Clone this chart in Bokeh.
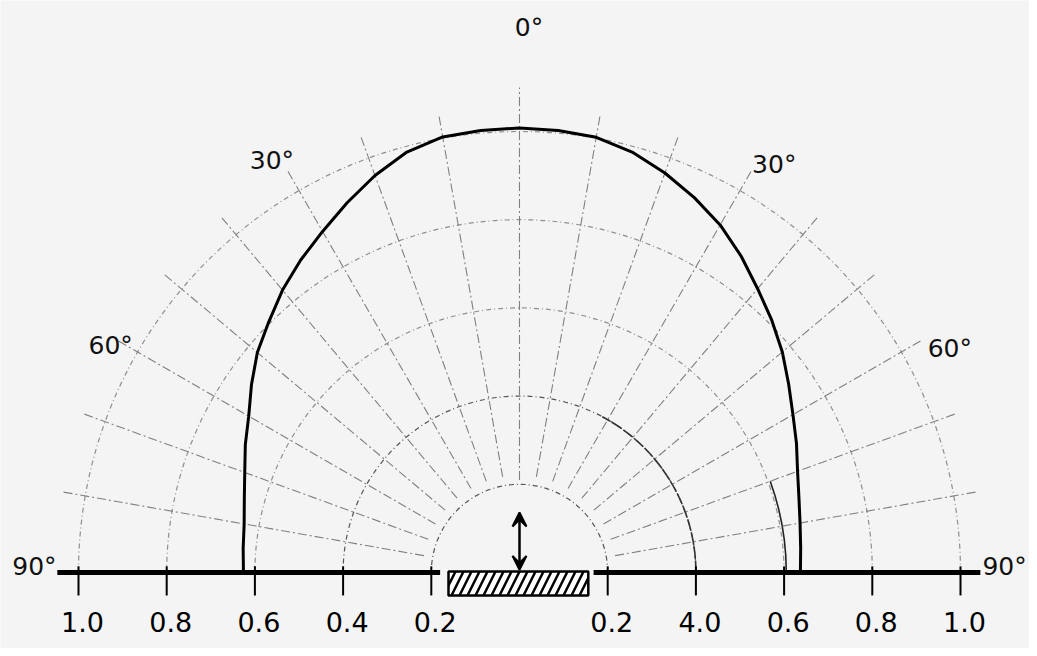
import numpy as np
from bokeh.plotting import figure
from bokeh.models import Range1d, Arrow, VeeHead
from bokeh.embed import file_html
from bokeh.resources import INLINE
from bokeh.core.properties import value

# ---- data ----
curve_angles = [0, 5, 10, 15, 20, 25, 30, 35, 40, 45, 50, 55, 60, 65, 70, 75, 80, 85, 90]
curve_r_left = [1.008, 1.006, 1.003, 0.987, 0.958, 0.925, 0.893, 0.865, 0.836, 0.804, 0.776,
                0.742, 0.709, 0.686, 0.663, 0.646, 0.634, 0.629, 0.626]
curve_r_right = [1.008, 1.006, 1.002, 0.987, 0.964, 0.938, 0.910, 0.876, 0.840, 0.809, 0.778,
                 0.745, 0.716, 0.693, 0.671, 0.656, 0.646, 0.640, 0.637]

ring_radii = [0.2, 0.4, 0.6, 0.8, 1.0]
spoke_angles = [-80, -70, -60, -50, -40, -30, -20, -10, 0, 10, 20, 30, 40, 50, 60, 70, 80]

tick_values = [0.2, 0.4, 0.6, 0.8, 1.0]
left_tick_labels = ["0.2", "0.4", "0.6", "0.8", "1.0"]
right_tick_labels = ["0.2", "4.0", "0.6", "0.8", "1.0"]

angle_labels = ["0°", "30°", "30°", "60°", "60°", "90°", "90°"]
angle_label_angles = [1, -31, 32, -61, 62.5, -89.3, 89.3]
angle_label_radii = [1.235, 1.09, 1.09, 1.06, 1.10, 1.10, 1.10]

# ---- figure ----
W, H = 1029, 648
cx, cy, unit = 519, 572, 441.0
p = figure(width=W, height=H, output_backend="svg", toolbar_location=None,
           x_range=Range1d(-cx / unit, (W - cx) / unit),
           y_range=Range1d(-(H - cy) / unit, cy / unit),
           x_axis_location=None, y_axis_location=None, min_border=0)
p.grid.visible = False
p.outline_line_color = None
p.background_fill_color = "#f4f4f4"
p.border_fill_color = "#f4f4f4"

def polar(ang_deg, r):
    a = np.radians(np.asarray(ang_deg, dtype=float))
    r = np.asarray(r, dtype=float)
    return r * np.sin(a), r * np.cos(a)

# rings
for r in ring_radii:
    col = "#555555" if r <= 0.4 else "#8f8f8f"
    p.arc(x=0, y=0, radius=r, start_angle=0, end_angle=np.pi,
          line_color=col, line_width=1.2, line_dash="5 3 1 3")

# darker arc pieces on the right side
p.arc(x=0, y=0, radius=0.4, start_angle=0, end_angle=np.radians(62),
      line_color="#333333", line_width=1.6, line_dash="12 2")
p.arc(x=0, y=0, radius=0.605, start_angle=0, end_angle=np.radians(20),
      line_color="#222222", line_width=1.6)

# spokes
sa = np.array(spoke_angles, dtype=float)
r0 = np.where(sa == 0, 0.21, 0.22)
r1 = np.where(sa == 0, 1.10, 1.05)
x0, y0 = polar(sa, r0)
x1, y1 = polar(sa, r1)
p.segment(x0=x0, y0=y0, x1=x1, y1=y1, line_color="#808080", line_width=1.1,
          line_dash="9 3 2 3")

# main curve
lx, ly = polar([-a for a in curve_angles], curve_r_left)
rx, ry = polar(curve_angles, curve_r_right)
xs = np.concatenate([lx[::-1], rx[1:]])
ys = np.concatenate([ly[::-1], ry[1:]])
p.line(xs, ys, line_color="black", line_width=3, line_join="round")

# baseline
p.segment(x0=[-1.048, 0.168], y0=[0, 0], x1=[-0.18, 1.045], y1=[0, 0],
          line_color="black", line_width=5)

# ticks
tv = np.array(tick_values)
tx = np.concatenate([-tv, tv])
p.segment(x0=tx, y0=[0.014] * len(tx), x1=tx, y1=[-0.052] * len(tx),
          line_color="black", line_width=2)

# tick labels
p.text(x=np.concatenate([-tv, tv]), y=[-0.113] * len(tx),
       text=left_tick_labels + right_tick_labels, x_offset=4,
       text_align="center", text_baseline="middle",
       text_font=value("DejaVu Sans"), text_font_size="27px", text_color="black")

# angle labels
axl, ayl = polar(angle_label_angles, angle_label_radii)
p.text(x=axl, y=ayl, text=angle_labels, text_align="center", text_baseline="middle",
       text_font=value("DejaVu Sans"), text_font_size="25px", text_color="#111111")

# sample (hatched bar) and polarisation arrow
p.quad(left=[-0.161], right=[0.156], top=[0.002], bottom=[-0.052],
       fill_color="white", line_color="black", line_width=2.5,
       hatch_pattern="/", hatch_color="black", hatch_scale=16, hatch_weight=2.5)
p.add_layout(Arrow(x_start=0, y_start=0.136, x_end=0, y_end=0.006,
                   line_color="black", line_width=2.5,
                   start=VeeHead(size=14, fill_color="black", line_color="black", line_width=2),
                   end=VeeHead(size=14, fill_color="black", line_color="black", line_width=2)))

open("out.html", "w").write(file_html(p, INLINE))
